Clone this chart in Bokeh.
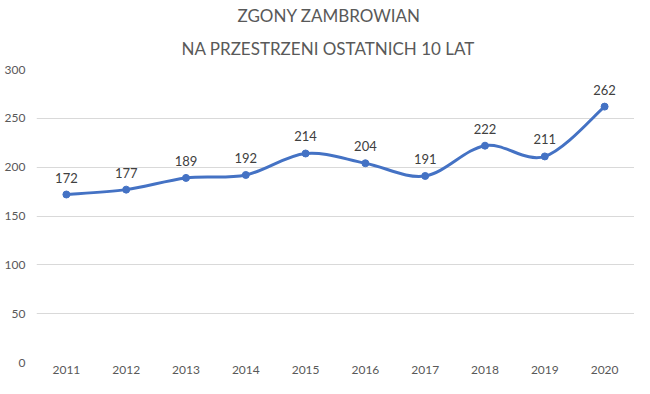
from bokeh.plotting import figure
from bokeh.models import FixedTicker, ColumnDataSource, Title
from bokeh.core.properties import value
from bokeh.embed import file_html
from bokeh.resources import INLINE

years = ["2011", "2012", "2013", "2014", "2015", "2016", "2017", "2018", "2019", "2020"]
deaths = [172, 177, 189, 192, 214, 204, 191, 222, 211, 262]
y_ticks = [0, 50, 100, 150, 200, 250, 300]
title_lines = ["ZGONY ZAMBROWIAN", "NA PRZESTRZENI OSTATNICH 10 LAT"]

FONT = "Lato"
BLUE = "#4472C4"
GREY = "#595959"

xs = list(range(len(years)))

# Excel-style smoothed line: cubic Bezier segments with Catmull-Rom control points
n = len(xs)
seg = dict(x0=[], y0=[], x1=[], y1=[], cx0=[], cy0=[], cx1=[], cy1=[])
for i in range(n - 1):
    pm = max(i - 1, 0)
    pp = min(i + 2, n - 1)
    seg["x0"].append(xs[i]); seg["y0"].append(deaths[i])
    seg["x1"].append(xs[i + 1]); seg["y1"].append(deaths[i + 1])
    seg["cx0"].append(xs[i] + (xs[i + 1] - xs[pm]) / 6)
    seg["cy0"].append(deaths[i] + (deaths[i + 1] - deaths[pm]) / 6)
    seg["cx1"].append(xs[i + 1] - (xs[pp] - xs[i]) / 6)
    seg["cy1"].append(deaths[i + 1] - (deaths[pp] - deaths[i]) / 6)

p = figure(width=634, height=378, output_backend="svg", toolbar_location=None,
           x_range=(-0.5, len(years) - 0.5), y_range=(0, 300),
           min_border_left=36, min_border_right=0, min_border_top=69, min_border_bottom=16)

p.title.text = ""
# later-added titles sit further from the plot, so add the second line first
p.add_layout(Title(text=title_lines[1], align="left", offset=145, text_font=FONT,
                   text_font_size="17px", text_font_style="normal", text_color=GREY,
                   standoff=21), "above")
p.add_layout(Title(text=title_lines[0], align="left", offset=201, text_font=FONT,
                   text_font_size="17px", text_font_style="normal", text_color=GREY,
                   standoff=0), "above")

p.outline_line_color = None
p.background_fill_color = "white"
p.border_fill_color = "white"

p.xgrid.grid_line_color = None
p.ygrid.grid_line_color = "#D9D9D9"
p.ygrid.grid_line_width = 1

p.yaxis.ticker = FixedTicker(ticks=y_ticks)
p.xaxis.ticker = FixedTicker(ticks=xs)
p.xaxis.major_label_overrides = {i: y for i, y in enumerate(years)}

for ax in (p.xaxis, p.yaxis):
    ax.axis_line_color = None
    ax.major_tick_line_color = None
    ax.minor_tick_line_color = None
    ax.major_tick_out = 0
    ax.major_tick_in = 0
    ax.minor_tick_out = 0
    ax.major_label_text_font = FONT
    ax.major_label_text_font_size = "12px"
    ax.major_label_text_color = GREY
p.yaxis.major_label_standoff = 11
p.xaxis.major_label_standoff = 3

p.bezier(x0="x0", y0="y0", x1="x1", y1="y1", cx0="cx0", cy0="cy0", cx1="cx1", cy1="cy1",
         source=ColumnDataSource(seg), line_color=BLUE, line_width=3, line_cap="round")

src = ColumnDataSource(dict(x=xs, y=deaths, t=[str(v) for v in deaths]))
p.scatter("x", "y", source=src, size=7, fill_color=BLUE, line_color=BLUE)
p.text("x", "y", text="t", source=src, y_offset=-17, text_align="center",
       text_baseline="middle", text_font=value(FONT), text_font_size="13px",
       text_color="#404040")

open("out.html", "w").write(file_html(p, INLINE))
